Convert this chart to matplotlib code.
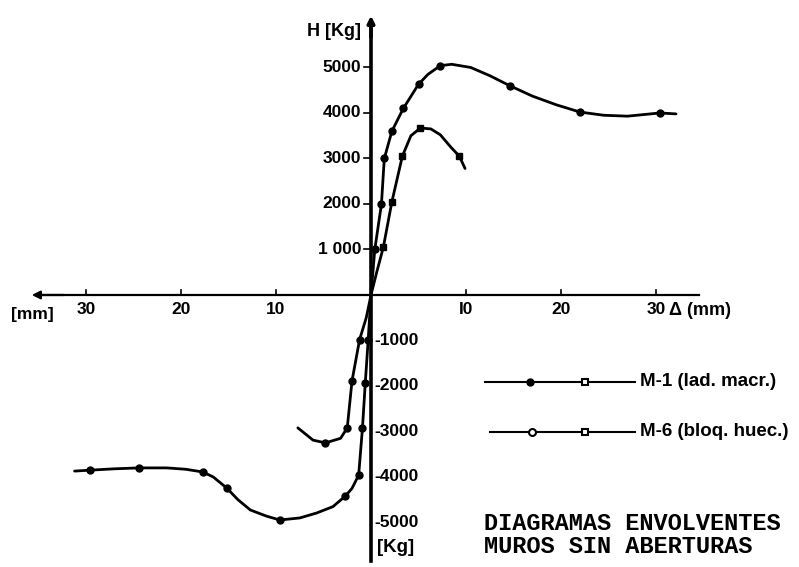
import matplotlib.pyplot as plt

# Envelope curves, horizontal load H [Kg] vs displacement delta [mm]
m1_pos_x = [0, 0.4, 1.1, 1.4, 2.2, 3.4, 5.0, 6.0, 7.3, 8.5, 10.5, 12.5, 14.6, 17.0, 19.5, 22.0, 24.5, 27.0, 30.4, 32.1]
m1_pos_h = [0, 1000, 2000, 3000, 3600, 4100, 4630, 4850, 5040, 5070, 5000, 4820, 4600, 4370, 4180, 4020, 3950, 3930, 4000, 3980]
m1_pos_mx = [0.4, 1.1, 1.4, 2.2, 3.4, 5.0, 7.3, 14.6, 22.0, 30.4]
m1_pos_mh = [1000, 2000, 3000, 3600, 4100, 4630, 5040, 4600, 4020, 4000]

m1_neg_x = [0, -0.3, -0.6, -0.9, -1.3, -2.0, -2.7, -4.0, -5.7, -7.5, -9.6, -11.0, -12.7, -14.0, -15.2, -16.6, -17.7, -19.5, -21.5, -24.4, -27.0, -29.6, -31.2]
m1_neg_h = [0, -1000, -1930, -2930, -3960, -4250, -4420, -4650, -4790, -4900, -4945, -4860, -4725, -4500, -4240, -4000, -3890, -3830, -3800, -3800, -3820, -3850, -3870]
m1_neg_mx = [-0.3, -0.6, -0.9, -1.3, -2.7, -9.6, -15.2, -17.7, -24.4, -29.6]
m1_neg_mh = [-1000, -1930, -2930, -3960, -4420, -4945, -4240, -3890, -3800, -3850]

m6_pos_x = [0, 0.6, 1.3, 2.2, 3.3, 4.2, 5.2, 6.3, 7.3, 8.4, 9.3, 9.9]
m6_pos_h = [0, 500, 1050, 2050, 3050, 3500, 3670, 3650, 3520, 3250, 3050, 2780]
m6_pos_mx = [1.3, 2.2, 3.3, 5.2, 9.3]
m6_pos_mh = [1050, 2050, 3050, 3670, 3050]

m6_neg_x = [0, -0.5, -1.2, -2.0, -2.5, -3.2, -4.8, -6.1, -7.7]
m6_neg_h = [0, -500, -980, -1890, -2920, -3150, -3250, -3190, -2920]
m6_neg_mx = [-1.2, -2.0, -2.5, -4.8]
m6_neg_mh = [-980, -1890, -2920, -3250]

x_ticks = [-30, -20, -10, 10, 20, 30]
x_tick_labels = ["30", "20", "10", "I0", "20", "30"]
h_ticks_pos = [5000, 4000, 3000, 2000, 1000]
h_labels_pos = ["5000", "4000", "3000", "2000", "1 000"]
h_ticks_neg = [-1000, -2000, -3000, -4000, -5000]
h_labels_neg = ["-1000", "-2000", "-3000", "-4000", "-5000"]

series_names = ["M-1 (lad. macr.)", "M-6 (bloq. huec.)"]
caption = "DIAGRAMAS ENVOLVENTES\nMUROS SIN ABERTURAS"

lbl_font = dict(family=["Liberation Sans", "DejaVu Sans"], fontweight="bold", color="black")

fig = plt.figure(figsize=(7.99, 5.67), dpi=100)
ax = fig.add_axes([0, 0, 1, 1])
ax.set_xlim(-39.05, 45.05)
ax.set_ylim(-5978, 6483)
ax.axis("off")

# axes through the origin
ax.plot([-34.5, 34.5], [0, 0], color="black", lw=1.6)
ax.annotate("", xy=(-36.0, 0), xytext=(-32.0, 0),
            arrowprops=dict(arrowstyle="-|>", color="black", lw=1.6, mutation_scale=12))
ax.plot([0, 0], [-5850, 5900], color="black", lw=2.6)
ax.annotate("", xy=(0, 6200), xytext=(0, 5600),
            arrowprops=dict(arrowstyle="-|>", color="black", lw=2.6, mutation_scale=10))

# tick marks and labels
for xt, lab in zip(x_ticks, x_tick_labels):
    ax.plot([xt, xt], [0, 110], color="black", lw=1.2)
    ax.text(xt, -160, lab, ha="center", va="top", fontsize=12.5, **lbl_font)
for ht, lab in zip(h_ticks_pos, h_labels_pos):
    ax.plot([-0.7, 0], [ht, ht], color="black", lw=1.2)
    ax.text(-1.0, ht, lab, ha="right", va="center", fontsize=12.5, **lbl_font)
for ht, lab in zip(h_ticks_neg, h_labels_neg):
    ax.text(0.35, ht, lab, ha="left", va="center", fontsize=12.5, **lbl_font)

ax.text(-1.0, 5780, "H [Kg]", ha="right", va="center", fontsize=13, **lbl_font)
ax.text(0.6, -5560, "[Kg]", ha="left", va="center", fontsize=13.5, **lbl_font)
ax.text(-35.6, -420, "[mm]", ha="center", va="center", fontsize=12.5, **lbl_font)
ax.text(31.4, -350, "Δ (mm)", ha="left", va="center", fontsize=13, **lbl_font)

# envelope curves
line_kw = dict(color="black", lw=2.0, solid_capstyle="round")
ax.plot(m1_pos_x, m1_pos_h, **line_kw)
ax.plot(m1_neg_x, m1_neg_h, **line_kw)
ax.plot(m6_pos_x, m6_pos_h, **line_kw)
ax.plot(m6_neg_x, m6_neg_h, **line_kw)

ax.plot(m1_pos_mx, m1_pos_mh, "o", color="black", ms=5)
ax.plot(m1_neg_mx, m1_neg_mh, "o", color="black", ms=5)
ax.plot(m6_pos_mx, m6_pos_mh, "s", color="black", ms=4.5)
ax.plot(m6_neg_mx, m6_neg_mh, "o", color="black", ms=5)

# hand-made key
ax.plot([12.0, 27.8], [-1910, -1910], color="black", lw=1.5)
ax.plot([16.7], [-1910], "o", color="black", ms=5)
ax.plot([22.5], [-1910], "s", mfc="white", mec="black", mew=1.5, ms=4.5)
ax.text(28.3, -1910, series_names[0], ha="left", va="center", fontsize=13.5, **lbl_font)

ax.plot([12.5, 27.8], [-3010, -3010], color="black", lw=1.5)
ax.plot([16.9], [-3010], "o", mfc="white", mec="black", mew=1.5, ms=5)
ax.plot([22.5], [-3010], "s", mfc="white", mec="black", mew=1.5, ms=4.5)
ax.text(28.3, -3010, series_names[1], ha="left", va="center", fontsize=13.5, **lbl_font)

ax.text(11.9, -5270, caption, ha="left", va="center", fontsize=17,
        family=["Liberation Mono", "DejaVu Sans Mono"], fontweight="bold",
        linespacing=1.0)

fig.savefig("out.png", dpi=100)
